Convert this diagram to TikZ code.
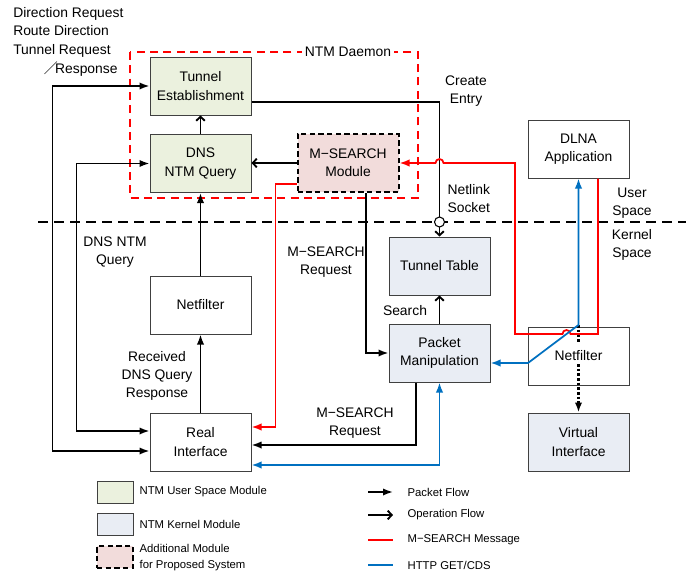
\documentclass[tikz,border=0pt]{standalone}
\usepackage{fontspec}
\setmainfont{Liberation Sans}
\newfontfamily\cjkfont{Noto Sans CJK JP}
\usetikzlibrary{arrows.meta, calc, positioning}

\definecolor{usergreen}{HTML}{EBF1DE}
\definecolor{kernelblue}{HTML}{E9EDF4}
\definecolor{addpink}{HTML}{F2DCDB}
\definecolor{httpblue}{HTML}{0070C0}
\definecolor{boxgray}{HTML}{404040}

\begin{document}
\begin{tikzpicture}[x=0.75pt, y=-0.75pt,
  font=\fontsize{10.4}{13.8}\selectfont,
  box/.style={draw=boxgray, line width=0.75pt, fill=white, minimum width=75.75pt, minimum height=43.5pt, align=center, inner sep=1pt},
  userbox/.style={box, fill=usergreen},
  kernelbox/.style={box, fill=kernelblue},
  addbox/.style={box, draw=black, fill=addpink, dash pattern=on 4pt off 2.5pt, line width=1.5pt},
  swatch/.style={minimum width=27pt, minimum height=16.5pt},
  lbl/.style={align=center, inner sep=1pt},
  lgd/.style={anchor=west, align=left, inner sep=1pt, font=\fontsize{8.5}{12}\selectfont},
  flow/.style={line width=1.4pt},
  pkt/.style={flow, -{Latex[length=7.5pt,width=5.5pt]}},
  pkt2/.style={flow, {Latex[length=7.5pt,width=5.5pt]}-{Latex[length=7.5pt,width=5.5pt]}},
  op/.style={flow, -{Straight Barb[length=3pt,width=6.5pt]}},
  msg/.style={line width=1.3pt, red, -{Latex[length=7.5pt,width=5.5pt]}},
  http/.style={line width=1.3pt, httpblue, {Latex[length=7.5pt,width=5.5pt]}-{Latex[length=7.5pt,width=5.5pt]}},
  dots/.style={line width=1.6pt, dash pattern=on 2pt off 1.5pt},
]
\useasboundingbox (0,0) rectangle (686,578);

% daemon frame and user/kernel border
\draw[red, line width=1.3pt, dash pattern=on 6pt off 4pt] (130,52) rectangle (418,198);
\node[fill=white, inner sep=2pt] (daemon) at (348,52) {NTM Daemon};
\draw[line width=1.4pt, dash pattern=on 7.5pt off 4.5pt] (38,222) -- (686,222);

\node[anchor=north west, align=left, inner sep=0pt, font=\fontsize{10.4}{14}\selectfont] (req) at (13,7)
  {Direction Request\\Route Direction\\Tunnel Request\\\hspace*{23pt}{\cjkfont ／}\hspace{-2pt}Response};

% modules
\node[userbox] (te) at (200.5,86) {Tunnel\\Establishment};
\node[userbox] (dnsq) at (200.5,163.5) {DNS\\NTM Query};
\node[addbox] (msm) at (348,163) {M−SEARCH\\Module};
\node[box] (nfu) at (200.5,305) {Netfilter};
\node[box] (ri) at (200.5,442) {Real\\Interface};
\node[kernelbox] (tt) at (439.5,266) {Tunnel Table};
\node[kernelbox] (pm) at (439.5,353) {Packet\\Manipulation};
\node[box] (dlna) at (578.5,149) {DLNA\\Application};
\node[box] (nfk) at (578.5,356) {Netfilter};
\node[kernelbox] (vi) at (578.5,442) {Virtual\\Interface};
\coordinate (hbend) at (578.5,325);

% packet and operation flow
\draw[pkt2] (te.west) -- ++(-97,0) |- ($(ri.west)+(0,9)$);
\draw[pkt2] (dnsq.west) -- ++(-73,0) |- ($(ri.west)+(0,-11)$);
\draw[op] (dnsq.north) -- (te.south);
\draw[op] (msm.west) -- (msm.west -| dnsq.east);
\draw[pkt] (nfu.north) -- (dnsq.south);
\draw[pkt] (ri.north) -- (nfu.south);
\draw[pkt] ($(msm.south)+(18,0)$) |- (pm.west);
\draw[op] ($(te.east)+(0,16)$) -| (tt.north);
\node[circle, draw, line width=0.8pt, fill=white, minimum size=7.5pt, inner sep=0pt] (sock) at (439.5,222) {};
\draw[op] (pm.north) -- (tt.south);
\draw[pkt] ($(pm.south)+(-23.5,0)$) |- ($(ri.east)+(0,3)$);
\draw[dots] (hbend) -- ($(nfk.center)+(0,-14)$);
\draw[dots, -{Latex[length=7.5pt,width=5.5pt]}] ($(nfk.center)+(0,8)$) -- (vi.north);

% M-SEARCH messages
\draw[msg] ($(msm.west)+(0,21)$) -- ++(-21,0) |- ($(ri.east)+(0,-15)$);
\draw[msg] ($(dlna.south)+(19.5,0)$) -- (598,334) -- (570.5,334)
  arc[start angle=0, end angle=180, radius=3pt] -- (515,334) -- (515,163) -- (443.5,163)
  arc[start angle=0, end angle=180, radius=3pt] -- (msm.east);

% HTTP GET/CDS
\draw[http] ($(ri.east)+(0,23)$) -| (pm.south);
\draw[http] ($(pm.east)+(0,10)$) -- (528,363) -- (hbend) -- (dlna.south);

% labels
\node[lbl] (dnslbl) at (115,252) {DNS NTM\\Query};
\node[lbl] (mreq1) at (326,262) {M−SEARCH\\Request};
\node[lbl] (srch) at (405,311) {Search};
\node[lbl] (rcv) at (157,376) {Received\\DNS Query\\Response};
\node[lbl] (mreq2) at (355,423) {M−SEARCH\\Request};
\node[lbl] (entry) at (466,91) {Create\\Entry};
\node[lbl, align=left, anchor=west] (nlink) at (446,198.5) {Netlink\\Socket};
\node[lbl] (user) at (632,203) {User\\Space};
\node[lbl] (kern) at (632,245) {Kernel\\Space};

% legend
\node[userbox, swatch] (lgu) at (115,492) {};
\node[kernelbox, swatch] (lgk) at (115,524.5) {};
\node[addbox, swatch] (lga) at (115,557) {};
\node[lgd] (lgutxt) at (138,492) {NTM User Space Module};
\node[lgd] (lgktxt) at (138,524.5) {NTM Kernel Module};
\node[lgd] (lgatxt) at (138,558) {Additional Module\\for Proposed System};
\node[lgd] (lpkt) at (406,492) {Packet Flow};
\node[lgd] (lop) at (406,515) {Operation Flow};
\node[lgd] (lmsg) at (406,540) {M−SEARCH Message};
\node[lgd] (lhttp) at (406,565) {HTTP GET/CDS};
\draw[pkt] ($(lpkt.west)+(-38,0)$) -- ($(lpkt.west)+(-13,0)$);
\draw[op] ($(lop.west)+(-38,0)$) -- ($(lop.west)+(-13,0)$);
\draw[red, line width=1.3pt] ($(lmsg.west)+(-38,0)$) -- ($(lmsg.west)+(-13,0)$);
\draw[httpblue, line width=1.3pt] ($(lhttp.west)+(-38,0)$) -- ($(lhttp.west)+(-13,0)$);
\end{tikzpicture}
\end{document}
